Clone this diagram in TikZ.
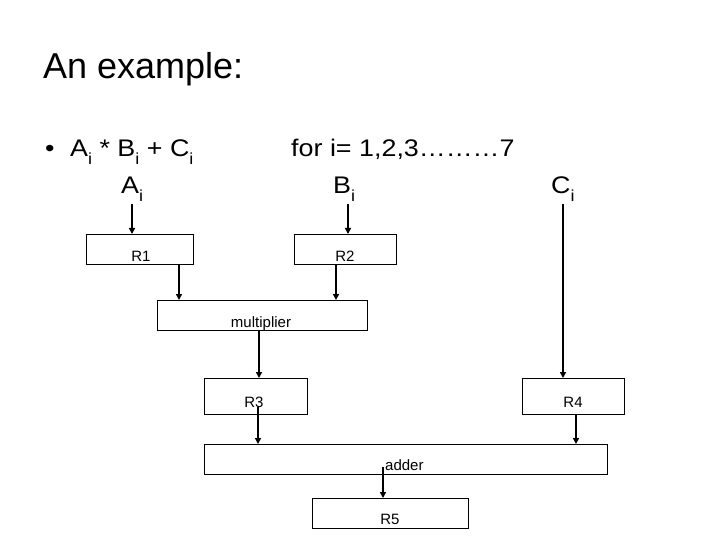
\documentclass[tikz,border=0pt]{standalone}
\usepackage{fontspec}
\setmainfont{Liberation Sans}
\newfontfamily\bodyfont[FakeStretch=1.12]{Liberation Sans}
\usetikzlibrary{arrows.meta}
\newcommand\subi{\raisebox{-8pt}{\fontsize{16}{16}\selectfont i}}
\begin{document}
\begin{tikzpicture}[x=1pt,y=-1pt,
  box/.style={draw,line width=0.8pt,inner sep=0,anchor=north west},
  lbl/.style={anchor=base,inner sep=0,font=\fontsize{15}{15}\selectfont},
  big/.style={anchor=base west,inner sep=0,font=\bodyfont\fontsize{24}{24}\selectfont},
  arr/.style={line width=1.8pt,-{Triangle[length=6pt,width=6pt]}}]
\useasboundingbox[fill=white] (0,0) rectangle (720,540);

% title and text
\node[anchor=base west,inner sep=0,font=\fontsize{36}{36}\selectfont] (title) at (43,79) {An example:};
\node[big] (bul) at (45,157) {•};
\node[big] (formula) at (70,157) {A\subi{} * B\subi{} + C\subi};
\node[big] (for) at (291,157) {for i= 1,2,3………7};

\node[big] (Ai) at (121,194) {A\subi};
\node[big] (Bi) at (333,194) {B\subi};
\node[big] (Ci) at (551,194) {C\subi};

% boxes
\node[box,minimum width=107pt,minimum height=30pt] (R1) at (86,234) {};
\node[box,minimum width=102pt,minimum height=30pt] (R2) at (294,234) {};
\node[box,minimum width=210pt,minimum height=30pt] (mult) at (157,300) {};
\node[box,minimum width=103pt,minimum height=36pt] (R3) at (204,378) {};
\node[box,minimum width=102pt,minimum height=36pt] (R4) at (522,378) {};
\node[box,minimum width=403pt,minimum height=30pt] (adder) at (204,444) {};
\node[box,minimum width=156pt,minimum height=30pt] (R5) at (312,498) {};

% labels
\node[lbl] (tR1) at (141,261) {R1};
\node[lbl] (tR2) at (345,261) {R2};
\node[lbl] (tmult) at (261,327) {multiplier};
\node[lbl] (tR3) at (254,407) {R3};
\node[lbl] (tR4) at (573,407) {R4};
\node[lbl,anchor=base west] (tadder) at (385,470) {adder};
\node[lbl] (tR5) at (390,524) {R5};

% connectors
\draw[arr] (Ai.south -| 132,0) ++(0,2) -- (R1.north -| 132,0);
\draw[arr] (Bi.south -| 348,0) ++(0,2) -- (R2.north -| 348,0);
\draw[arr] (Ci.south -| 563,0) ++(0,2) -- (R4.north -| 563,0);
\draw[arr] (R1.south -| 179,0) -- (mult.north -| 179,0);
\draw[arr] (R2.south -| 336,0) -- (mult.north -| 336,0);
\draw[arr] (mult.south -| 259,0) -- (R3.north -| 259,0);
\draw[arr] (tR3.base -| 258,0) -- (adder.north -| 258,0);
\draw[arr] (R4.south -| 576,0) -- (adder.north -| 576,0);
\draw[arr] (tadder.base -| 383,0) ++(0,-3) -- (R5.north -| 383,0);
\end{tikzpicture}
\end{document}
